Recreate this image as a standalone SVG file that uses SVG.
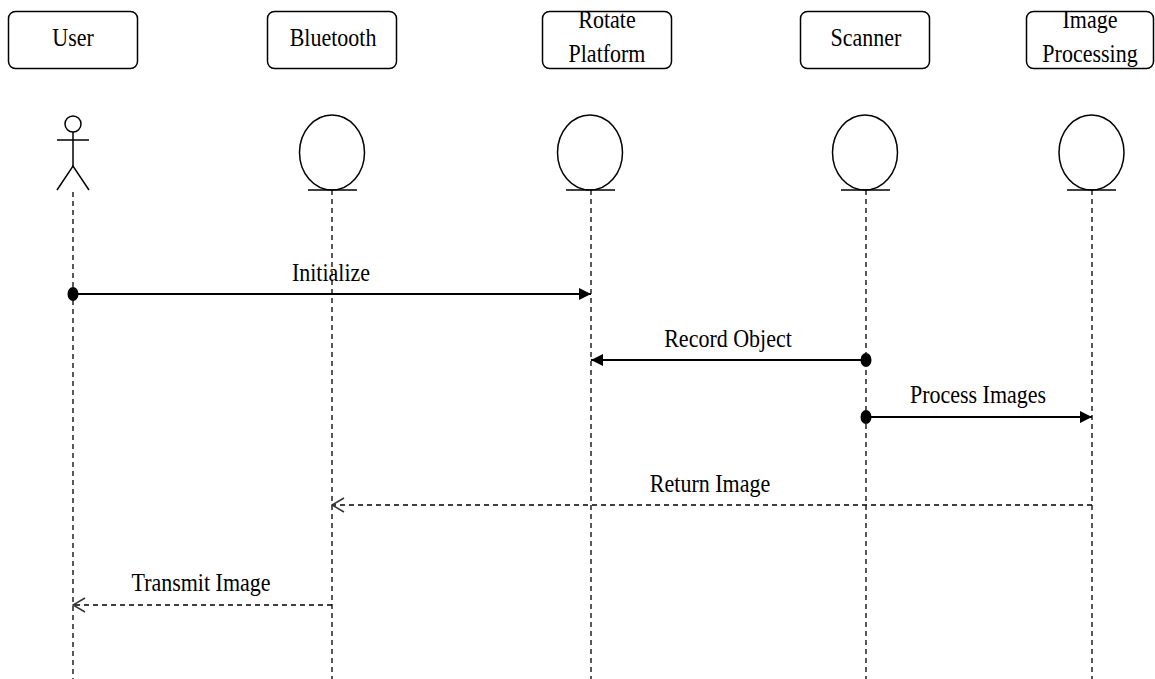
<svg xmlns="http://www.w3.org/2000/svg" width="1155" height="679" viewBox="0 0 1155 679">
  <style>
    .box { fill: #ffffff; stroke: #000000; stroke-width: 1.5; }
    .lbl { font-family: "Liberation Serif", "Times New Roman", serif; font-size: 22px; fill: #000000; text-anchor: middle; }
    .shape { fill: none; stroke: #000000; stroke-width: 1.5; }
    .life { stroke: #000000; stroke-width: 1.3; stroke-dasharray: 5 4; fill: none; }
    .msg { stroke: #000000; stroke-width: 1.8; fill: none; }
    .ret { stroke: #000000; stroke-width: 1.5; stroke-dasharray: 5 4; fill: none; }
    .dot { fill: #000000; }
  </style>
  <defs>
    <marker id="solidHead" viewBox="0 0 12 12" refX="12" refY="6" markerWidth="12" markerHeight="12" markerUnits="userSpaceOnUse" orient="auto">
      <path d="M0,0 L12,6 L0,12 Z" fill="#000000"/>
    </marker>
    <marker id="openHead" viewBox="0 0 14 16" refX="13" refY="8" markerWidth="14" markerHeight="16" markerUnits="userSpaceOnUse" orient="auto">
      <path d="M1,1 L13,8 L1,15" fill="none" stroke="#333333" stroke-width="1.5"/>
    </marker>
  </defs>
  <rect width="1155" height="679" fill="#ffffff"/>

  <!-- lifelines -->
  <g id="lifelines">
    <line class="life" x1="73" y1="192" x2="73" y2="679"/>
    <line class="life" x1="332" y1="190" x2="332" y2="679"/>
    <line class="life" x1="591" y1="190" x2="591" y2="679"/>
    <line class="life" x1="866" y1="190" x2="866" y2="679"/>
    <line class="life" x1="1092" y1="190" x2="1092" y2="679"/>
  </g>

  <!-- participants -->
  <g id="user">
    <rect class="box" x="8.5" y="11.5" width="129" height="57" rx="7"/>
    <text class="lbl" transform="translate(73,46) scale(1,1.12)">User</text>
    <circle class="shape" cx="73" cy="124" r="8"/>
    <line class="shape" x1="57" y1="140" x2="89" y2="140"/>
    <line class="shape" x1="73" y1="132" x2="73" y2="166"/>
    <path class="shape" d="M57,190 L73,166 L89,190"/>
  </g>
  <g id="bluetooth">
    <rect class="box" x="267.5" y="11.5" width="129" height="57" rx="7"/>
    <text class="lbl" transform="translate(333,46) scale(1,1.12)">Bluetooth</text>
    <ellipse class="shape" cx="332" cy="152.5" rx="32.5" ry="37.5"/>
    <line class="shape" x1="308" y1="190" x2="357" y2="190"/>
  </g>
  <g id="rotate-platform">
    <rect class="box" x="542.5" y="11.5" width="129" height="57" rx="7"/>
    <text class="lbl" transform="translate(607,28) scale(1,1.12)">Rotate</text>
    <text class="lbl" transform="translate(607,62) scale(1,1.12)">Platform</text>
    <ellipse class="shape" cx="590" cy="152.5" rx="32.5" ry="37.5"/>
    <line class="shape" x1="566" y1="190" x2="615" y2="190"/>
  </g>
  <g id="scanner">
    <rect class="box" x="800.5" y="11.5" width="129" height="57" rx="7"/>
    <text class="lbl" transform="translate(866,46) scale(1,1.12)">Scanner</text>
    <ellipse class="shape" cx="865" cy="152.5" rx="32.5" ry="37.5"/>
    <line class="shape" x1="841" y1="190" x2="890" y2="190"/>
  </g>
  <g id="image-processing">
    <rect class="box" x="1026.5" y="11.5" width="127" height="57" rx="7"/>
    <text class="lbl" transform="translate(1090,28) scale(1,1.12)">Image</text>
    <text class="lbl" transform="translate(1090,62) scale(1,1.12)">Processing</text>
    <ellipse class="shape" cx="1091.5" cy="152.5" rx="32.5" ry="37.5"/>
    <line class="shape" x1="1067" y1="190" x2="1116" y2="190"/>
  </g>

  <!-- messages -->
  <g id="connectors">
    <line class="msg" x1="73" y1="294" x2="591" y2="294" marker-end="url(#solidHead)"/>
    <ellipse class="dot" cx="73" cy="294" rx="5.5" ry="7"/>
    <text class="lbl" transform="translate(331,281) scale(1,1.12)">Initialize</text>

    <line class="msg" x1="866" y1="360" x2="591" y2="360" marker-end="url(#solidHead)"/>
    <ellipse class="dot" cx="866" cy="360" rx="5.5" ry="7"/>
    <text class="lbl" transform="translate(728,347) scale(1,1.12)">Record Object</text>

    <line class="msg" x1="866" y1="417" x2="1092" y2="417" marker-end="url(#solidHead)"/>
    <ellipse class="dot" cx="866" cy="417" rx="5.5" ry="7"/>
    <text class="lbl" transform="translate(978,403) scale(1,1.12)">Process Images</text>

    <line class="ret" x1="1092" y1="505" x2="332" y2="505" marker-end="url(#openHead)"/>
    <text class="lbl" transform="translate(710,492) scale(1,1.12)">Return Image</text>

    <line class="ret" x1="332" y1="605" x2="73" y2="605" marker-end="url(#openHead)"/>
    <text class="lbl" transform="translate(201,591) scale(1,1.12)">Transmit Image</text>
  </g>
</svg>
